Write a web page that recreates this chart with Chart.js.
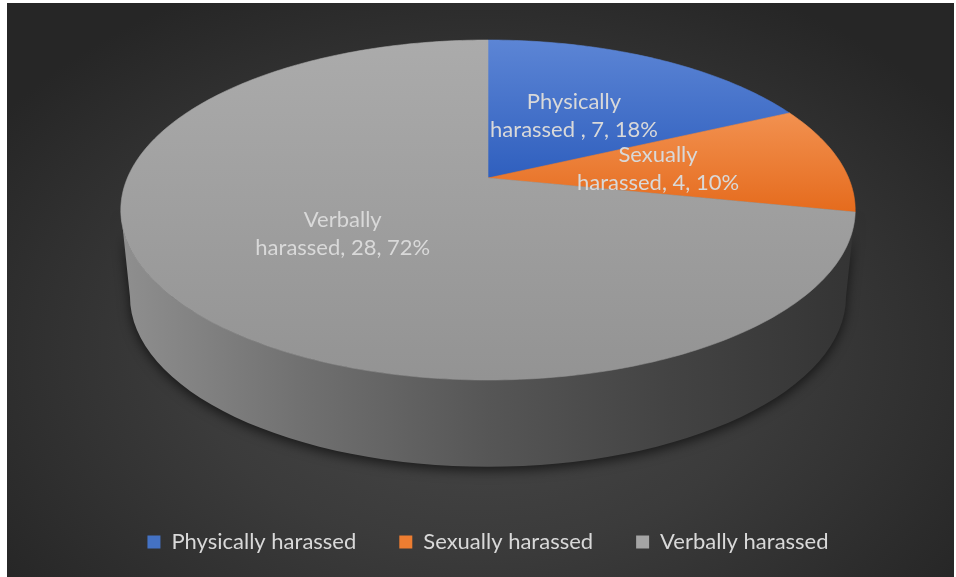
<!DOCTYPE html>
<html>
<head>
<meta charset="utf-8">
<script src="https://cdn.jsdelivr.net/npm/chart.js@4.4.1/dist/chart.umd.min.js"></script>
<style>
  html, body { margin: 0; padding: 0; background: #fff; }
  #wrap { position: relative; width: 956px; height: 577px; overflow: hidden; }
  #panel {
    position: absolute; left: 7px; top: 3px; width: 947px; height: 574px;
    background: radial-gradient(ellipse 62% 70% at 50% 60%, #4a4a4a 0%, #3b3b3b 50%, #262626 100%);
  }
  canvas { position: absolute; left: 0; top: 0; }
</style>
</head>
<body>
<div id="wrap"><div id="panel"></div><canvas id="grafik" width="956" height="577"></canvas></div>
<script>
// ===== data =====
const categories = ['Physically harassed ', 'Sexually harassed', 'Verbally harassed'];
const counts = [7, 4, 28];
const colors = ['#4472c4', '#ed7d31', '#a5a5a5'];

// ===== look of the 3d slab =====
const ASPECT = 2.16;     // horizontal / vertical radius of the tilted pie
const TILT = -0.188;     // apex sits above the middle of the ellipse (fraction of ry)
const DEPTH = 0.51;      // slab thickness, fraction of ry
const BOTTOM_SHRINK = 0.975;
const LABEL_F = 0.48;
const labelNudge = [[0, 0], [0, 0], [-3, 3]];
const faceShades = [['#5c85d5', '#2f5fbe'], ['#f29150', '#e56b1d'], ['#ababab', '#939393']];
const textColor = '#d9d9d9';
const FONT = 'Lato, "Open Sans", sans-serif';

const phi = Math.atanh(TILT), ch = Math.cosh(phi), sh = Math.sinh(phi);
const total = counts.reduce((a, b) => a + b, 0);

function geom(chart) {
  const el = chart.getDatasetMeta(0).data[0];
  const ry = el.outerRadius;
  return { cx: el.x, cy: el.y, ry, rx: ry * ASPECT };
}

// circle point (f = fraction of radius, ang = pie angle) -> perspective ellipse
function project(g, f, ang) {
  const u = f * Math.cos(ang), v = f * Math.sin(ang);
  const w = v * sh + ch;
  return { x: g.cx + g.rx * u / w, y: g.cy + g.ry * (v * ch + sh) / w };
}

const pie3d = {
  id: 'pie3d',
  beforeDatasetsDraw(chart) {
    const ctx = chart.ctx;
    const g = geom(chart);
    const meta = chart.getDatasetMeta(0);

    // side of the slab
    const d = g.ry * DEPTH;
    ctx.save();
    const sideGrad = ctx.createLinearGradient(g.cx - g.rx, 0, g.cx + g.rx, 0);
    sideGrad.addColorStop(0, '#8f8f8f');
    sideGrad.addColorStop(0.25, '#707070');
    sideGrad.addColorStop(0.5, '#565656');
    sideGrad.addColorStop(0.75, '#434343');
    sideGrad.addColorStop(1, '#343434');
    ctx.shadowColor = 'rgba(0,0,0,0.6)';
    ctx.shadowBlur = 12;
    ctx.shadowOffsetY = 4;
    ctx.beginPath();
    ctx.ellipse(g.cx, g.cy, g.rx, g.ry, 0, 0, Math.PI);
    ctx.ellipse(g.cx, g.cy + d, g.rx * BOTTOM_SHRINK, g.ry, 0, Math.PI, 0, true);
    ctx.closePath();
    ctx.fillStyle = sideGrad;
    ctx.fill();
    ctx.restore();

    // top faces
    meta.data.forEach((arc, i) => {
      const p = arc.getProps(['startAngle', 'endAngle'], true);
      const o = project(g, 0, 0);
      const pts = [o];
      const n = Math.max(8, Math.ceil((p.endAngle - p.startAngle) * 60));
      for (let k = 0; k <= n; k++) {
        pts.push(project(g, 1, p.startAngle + (p.endAngle - p.startAngle) * k / n));
      }
      const ys = pts.map(q => q.y);
      const grad = ctx.createLinearGradient(0, Math.min(...ys), 0, Math.max(...ys));
      grad.addColorStop(0, faceShades[i][0]);
      grad.addColorStop(1, faceShades[i][1]);
      ctx.beginPath();
      pts.forEach((q, k) => k ? ctx.lineTo(q.x, q.y) : ctx.moveTo(q.x, q.y));
      ctx.closePath();
      ctx.fillStyle = grad;
      ctx.strokeStyle = grad;
      ctx.lineWidth = 0.6;
      ctx.fill();
      ctx.stroke();
    });

    // data labels
    ctx.save();
    ctx.font = '22px ' + FONT;
    ctx.fillStyle = textColor;
    ctx.textAlign = 'center';
    ctx.textBaseline = 'middle';
    meta.data.forEach((arc, i) => {
      const p = arc.getProps(['startAngle', 'endAngle'], true);
      const c = project(g, LABEL_F, (p.startAngle + p.endAngle) / 2);
      const name = categories[i];
      const cut = name.indexOf(' ');
      const pct = Math.round(counts[i] / total * 100);
      const lines = [name.slice(0, cut), name.slice(cut + 1) + ', ' + counts[i] + ', ' + pct + '%'];
      const x = c.x + labelNudge[i][0], y = c.y + labelNudge[i][1];
      ctx.fillText(lines[0], x, y - 14);
      ctx.fillText(lines[1], x, y + 14);
    });
    ctx.restore();
    return false;
  }
};

// ===== chart =====
const ctx = document.getElementById('grafik').getContext('2d');
const chart = new Chart(ctx, {
  type: 'pie',
  data: {
    labels: categories,
    datasets: [{ data: counts, backgroundColor: colors, borderWidth: 0 }]
  },
  options: {
    responsive: false,
    animation: false,
    events: [],
    layout: { padding: { left: 60, right: 40, top: 40, bottom: 14 } },
    plugins: {
      tooltip: { enabled: false },
      legend: {
        position: 'bottom',
        title: { display: true, text: '', font: { size: 10 }, padding: { top: 96, bottom: 0 } },
        labels: {
          color: textColor,
          font: { family: FONT, size: 22 },
          boxWidth: 13,
          boxHeight: 13,
          padding: 43,
          generateLabels: c => Chart.overrides.pie.plugins.legend.labels.generateLabels(c)
            .map(it => Object.assign(it, { text: it.text.trim() }))
        }
      }
    }
  },
  plugins: [pie3d]
});
</script>
</body>
</html>
